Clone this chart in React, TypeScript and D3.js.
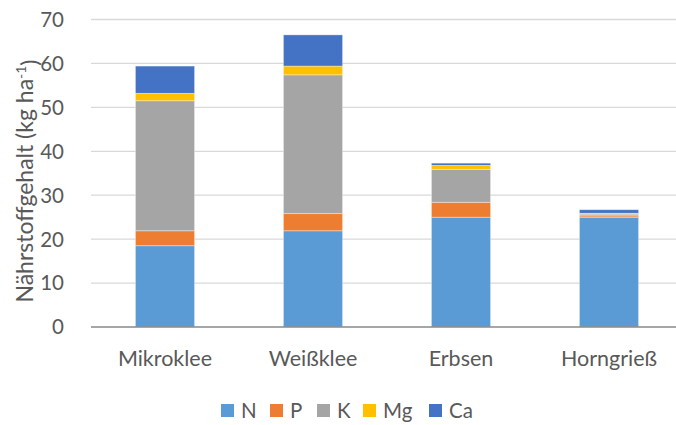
import * as d3 from "d3";
import { useEffect, useRef } from "react";

const categories = ["Mikroklee", "Weißklee", "Erbsen", "Horngrieß"];
const nutrients = ["N", "P", "K", "Mg", "Ca"];
const nValues = [18.5, 21.9, 25.0, 25.0];
const pValues = [3.4, 3.9, 3.4, 0.3];
const kValues = [29.6, 31.6, 7.5, 0.4];
const mgValues = [1.7, 2.0, 0.9, 0.2];
const caValues = [6.2, 7.1, 0.5, 0.8];
const yTicks = [0, 10, 20, 30, 40, 50, 60, 70];
const colors = ["#5B9BD5", "#ED7D31", "#A5A5A5", "#FFC000", "#4472C4"];

const FONT = "Lato, 'Open Sans', sans-serif";
const TEXT = "#595959";

export default function App() {
  const ref = useRef<SVGSVGElement | null>(null);

  useEffect(() => {
    const svg = d3.select(ref.current);
    svg.selectAll("*").remove();

    const width = 676;
    const height = 425;
    const left = 91;
    const top = 19.5;
    const bottom = 327;

    const rows = categories.map((c, i) => ({
      cat: c,
      N: nValues[i],
      P: pValues[i],
      K: kValues[i],
      Mg: mgValues[i],
      Ca: caValues[i],
    }));

    const x = d3
      .scaleBand()
      .domain(categories)
      .range([left, left + 592])
      .paddingInner(0.6)
      .paddingOuter(0.3);

    const y = d3.scaleLinear().domain([0, 70]).range([bottom, top]);

    const color = d3.scaleOrdinal<string>().domain(nutrients).range(colors);

    svg.attr("width", width).attr("height", height);

    // gridlines
    svg
      .append("g")
      .selectAll("line")
      .data(yTicks.filter((t) => t > 0))
      .enter()
      .append("line")
      .attr("x1", left)
      .attr("x2", width)
      .attr("y1", (d) => y(d))
      .attr("y2", (d) => y(d))
      .attr("stroke", "#D9D9D9")
      .attr("stroke-width", 1.3);

    // y tick labels
    svg
      .append("g")
      .selectAll("text")
      .data(yTicks)
      .enter()
      .append("text")
      .attr("x", 64)
      .attr("y", (d) => y(d))
      .attr("dy", "0.36em")
      .attr("text-anchor", "end")
      .attr("fill", TEXT)
      .style("font-family", FONT)
      .style("font-size", "20.5px")
      .text((d) => d);

    // stacked bars
    const stack = d3.stack<any>().keys(nutrients);
    const series = stack(rows);

    svg
      .append("g")
      .selectAll("g")
      .data(series)
      .enter()
      .append("g")
      .attr("fill", (d) => color(d.key))
      .selectAll("rect")
      .data((d) => d)
      .enter()
      .append("rect")
      .attr("x", (d: any) => x(d.data.cat)!)
      .attr("width", x.bandwidth())
      .attr("y", (d) => y(d[1]))
      .attr("height", (d) => y(d[0]) - y(d[1]))
      .attr("stroke", "#ffffff")
      .attr("stroke-opacity", 0.5)
      .attr("stroke-width", 0.75);

    // x axis line
    svg
      .append("line")
      .attr("x1", left)
      .attr("x2", width)
      .attr("y1", bottom)
      .attr("y2", bottom)
      .attr("stroke", "#898989")
      .attr("stroke-width", 1.5);

    // category labels
    svg
      .append("g")
      .selectAll("text")
      .data(categories)
      .enter()
      .append("text")
      .attr("x", (d) => x(d)! + x.bandwidth() / 2)
      .attr("y", 366)
      .attr("text-anchor", "middle")
      .attr("fill", TEXT)
      .style("font-family", FONT)
      .style("font-size", "21.5px")
      .text((d) => d);

    // y axis title
    const yTitle = svg
      .append("text")
      .attr("transform", "translate(33, 181) rotate(-90)")
      .attr("text-anchor", "middle")
      .attr("fill", TEXT)
      .style("font-family", FONT)
      .style("font-size", "23px");
    yTitle.append("tspan").text("Nährstoffgehalt (kg ha");
    yTitle
      .append("tspan")
      .attr("dy", "-0.5em")
      .style("font-size", "14px")
      .text("-1");
    yTitle.append("tspan").attr("dy", "0.5em").text(")");

    // legend
    const legendX = [221, 270, 317, 363, 429];
    const legend = svg
      .append("g")
      .selectAll("g")
      .data(nutrients)
      .enter()
      .append("g")
      .attr("transform", (d, i) => `translate(${legendX[i]}, 404)`);
    legend
      .append("rect")
      .attr("width", 13)
      .attr("height", 13)
      .attr("fill", (d) => color(d));
    legend
      .append("text")
      .attr("x", 20)
      .attr("y", 6.5)
      .attr("dy", "0.36em")
      .attr("fill", TEXT)
      .style("font-family", FONT)
      .style("font-size", "20.5px")
      .text((d) => d);
  }, []);

  return (
    <svg
      ref={ref}
      style={{ position: "absolute", left: 0, top: 0, background: "#fff" }}
    ></svg>
  );
}
